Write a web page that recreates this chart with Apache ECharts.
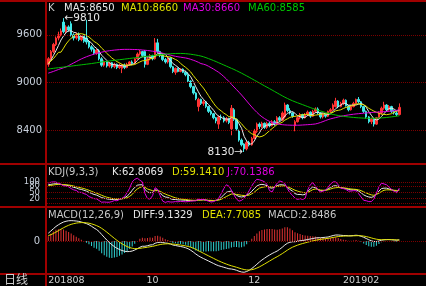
<!DOCTYPE html>
<html><head><meta charset="utf-8">
<script src="https://cdn.jsdelivr.net/npm/echarts@6/dist/echarts.min.js"></script>
<style>html,body{margin:0;padding:0;background:#000;}#c{width:426px;height:286px;}</style>
</head><body><div id="c"></div>
<script>
const slotCount = 149;
const tickLabels = [[0,'201808'],[41,'10'],[81,'12'],[123,'201902']];
const mainGridValues = [8400, 9000, 9600];
const kdjGridValues = [0, 20, 50, 80, 100];
const kdjLabelValues = [100, 80, 50, 20];
const macdGridValues = [0];
// [open, close, low, high]
const ohlc = [
[9230,9300,9200,9320],[9300,9390,9280,9410],[9390,9480,9370,9500],[9480,9560,9460,9580],[9560,9600,9530,9640],
[9600,9650,9580,9680],[9760,9640,9620,9810],[9640,9700,9610,9720],[9700,9660,9640,9720],[9740,9600,9580,9770],
[9600,9560,9530,9620],[9560,9610,9540,9630],[9610,9540,9520,9630],[9540,9590,9520,9600],[9590,9520,9500,9610],
[9560,9510,9480,9790],[9510,9450,9430,9530],[9450,9420,9390,9470],[9420,9370,9350,9440],[9370,9410,9350,9430],
[9400,9300,9280,9420],[9300,9220,9200,9320],[9220,9260,9200,9280],[9260,9210,9190,9270],[9210,9250,9190,9260],
[9250,9200,9180,9260],[9200,9230,9180,9250],[9230,9190,9170,9240],[9190,9220,9170,9240],[9180,9220,9120,9230],
[9220,9190,9170,9240],[9190,9230,9180,9250],[9230,9260,9210,9270],[9260,9240,9220,9280],[9240,9300,9230,9310],
[9300,9360,9290,9380],[9360,9390,9340,9410],[9390,9340,9320,9400],[9390,9230,9190,9410],[9230,9300,9220,9320],
[9300,9340,9280,9360],[9340,9300,9280,9350],[9300,9500,9290,9560],[9500,9390,9370,9550],[9390,9340,9320,9400],
[9340,9290,9270,9360],[9290,9260,9240,9310],[9260,9310,9240,9330],[9310,9200,9180,9320],[9200,9140,9120,9210],
[9130,9180,9100,9190],[9180,9140,9130,9190],[9140,9170,9130,9180],[9170,9130,9120,9180],[9130,9100,9080,9150],
[9100,9020,9000,9130],[9020,8950,8930,9030],[8950,8870,8850,8960],[8870,8800,8780,8880],[8700,8790,8640,8810],
[8790,8740,8720,8800],[8740,8760,8710,8780],[8760,8700,8680,8770],[8700,8640,8620,8710],[8640,8610,8590,8660],
[8610,8560,8540,8620],[8560,8520,8490,8570],[8480,8570,8420,8590],[8570,8560,8530,8600],[8560,8520,8500,8580],
[8520,8550,8500,8570],[8550,8500,8480,8560],[8420,8680,8340,8720],[8660,8540,8520,8680],[8540,8420,8400,8550],
[8400,8280,8260,8410],[8280,8220,8200,8300],[8230,8170,8130,8240],[8170,8250,8150,8270],[8250,8220,8200,8270],
[8220,8300,8210,8320],[8300,8400,8290,8420],[8390,8480,8370,8500],[8480,8450,8420,8500],[8450,8490,8430,8510],
[8490,8440,8420,8500],[8440,8490,8420,8510],[8490,8460,8440,8510],[8460,8510,8450,8530],[8510,8480,8460,8530],
[8480,8560,8470,8580],[8560,8530,8510,8580],[8530,8620,8520,8640],[8570,8720,8550,8750],[8720,8650,8630,8730],
[8650,8620,8600,8680],[8620,8580,8560,8630],[8460,8510,8390,8530],[8510,8560,8500,8580],[8560,8600,8540,8620],
[8600,8560,8540,8610],[8560,8600,8550,8620],[8600,8630,8580,8650],[8630,8580,8560,8640],[8580,8640,8570,8660],
[8640,8670,8620,8690],[8670,8620,8600,8690],[8620,8570,8550,8630],[8570,8600,8550,8620],[8600,8580,8560,8610],
[8580,8640,8570,8650],[8640,8660,8620,8680],[8660,8720,8650,8740],[8700,8770,8690,8810],[8770,8700,8680,8780],
[8700,8740,8690,8760],[8740,8780,8720,8800],[8780,8710,8700,8790],[8710,8660,8640,8720],[8660,8700,8650,8720],
[8700,8740,8690,8760],[8740,8790,8730,8800],[8790,8760,8740,8820],[8760,8700,8680,8770],[8700,8640,8620,8710],
[8640,8570,8550,8650],[8570,8510,8490,8580],[8510,8540,8480,8560],[8540,8480,8450,8550],[8480,8560,8470,8570],
[8560,8620,8550,8640],[8620,8680,8600,8700],[8680,8720,8660,8760],[8720,8660,8640,8730],[8660,8700,8650,8720],
[8700,8640,8620,8710],[8640,8620,8600,8660],[8620,8600,8580,8640],[8600,8690,8590,8740]
];
const ma5 = [
9230,9280,9340,9400,9466,9536,9586,9630,9650,9650,
9632,9626,9594,9580,9564,9554,9522,9498,9454,9432,
9390,9344,9312,9280,9248,9228,9230,9216,9218,9212,
9210,9210,9224,9228,9244,9278,9310,9326,9324,9324,
9320,9302,9334,9366,9374,9364,9356,9318,9280,9240,
9218,9194,9166,9152,9144,9112,9074,9014,8948,8886,
8830,8792,8758,8726,8690,8654,8606,8580,8564,8546,
8544,8540,8562,8558,8538,8484,8428,8326,8268,8228,
8232,8268,8330,8370,8424,8452,8470,8466,8478,8476,
8500,8508,8540,8582,8616,8628,8638,8616,8584,8574,
8562,8566,8590,8594,8602,8624,8628,8616,8620,8608,
8602,8610,8640,8674,8698,8718,8742,8740,8718,8718,
8718,8720,8730,8738,8726,8692,8636,8592,8548,8532,
8542,8576,8612,8648,8676,8680,8668,8644,8650];
const ma10 = [
9250,9270,9300,9340,9380,9383,9433,9485,9525,9558,
9584,9606,9612,9615,9607,9593,9574,9546,9517,9498,
9472,9433,9405,9367,9340,9309,9287,9264,9249,9230,
9219,9220,9220,9223,9228,9244,9260,9275,9276,9284,
9299,9306,9330,9345,9349,9342,9329,9326,9323,9307,
9291,9275,9242,9216,9192,9165,9134,9090,9050,9015,
8971,8933,8886,8837,8788,8742,8699,8669,8645,8618,
8599,8573,8571,8561,8542,8514,8484,8444,8413,8383,
8358,8348,8328,8319,8326,8342,8369,8398,8424,8450,
8476,8489,8503,8530,8546,8564,8573,8578,8583,8595,
8595,8602,8603,8589,8588,8593,8597,8603,8607,8605,
8613,8619,8628,8647,8653,8660,8676,8690,8696,8708,
8718,8731,8735,8728,8722,8705,8678,8661,8643,8629,
8617,8606,8602,8598,8604,8611,8630,8645,8660];
const ma30 = [
9120,9130,9141,9153,9165,9176,9187,9197,9214,9231,
9248,9265,9282,9298,9312,9325,9337,9348,9358,9367,
9375,9383,9390,9396,9401,9405,9409,9412,9415,9417,
9418,9418,9418,9417,9416,9415,9413,9410,9407,9404,
9400,9395,9390,9384,9377,9370,9362,9354,9346,9338,
9331,9325,9320,9315,9310,9303,9293,9282,9270,9256,
9240,9232,9222,9206,9188,9170,9150,9130,9105,9077,
9047,9015,8980,8946,8913,8880,8845,8808,8770,8732,
8695,8660,8628,8598,8572,8550,8530,8514,8501,8491,
8483,8477,8473,8470,8468,8467,8466,8466,8466,8467,
8469,8471,8473,8475,8478,8482,8490,8500,8512,8524,
8536,8546,8554,8562,8570,8577,8584,8590,8595,8600,
8604,8608,8611,8614,8617,8620,8623,8626,8628,8630,
8632,8634,8636,8638,8641,8644,8648,8653,8660];
const ma60 = [
9172,9176,9180,9184,9188,9192,9196,9200,9204,9208,
9212,9216,9220,9224,9228,9232,9236,9240,9245,9250,
9255,9260,9264,9268,9272,9276,9280,9284,9288,9292,
9296,9300,9304,9308,9312,9316,9320,9324,9328,9332,
9336,9340,9344,9348,9352,9355,9358,9361,9363,9365,
9366,9367,9367,9366,9364,9361,9357,9352,9347,9341,
9334,9325,9314,9302,9290,9277,9264,9250,9236,9222,
9208,9194,9180,9166,9151,9135,9119,9102,9085,9068,
9050,9032,9014,8996,8978,8960,8943,8925,8907,8889,
8871,8853,8835,8818,8802,8787,8773,8760,8748,8736,
8724,8712,8700,8688,8676,8665,8655,8645,8635,8626,
8617,8609,8601,8594,8588,8583,8578,8574,8570,8567,
8564,8561,8559,8557,8555,8554,8553,8553,8553,8554,
8556,8558,8560,8563,8567,8571,8575,8580,8585];
const kdjK = [
86,88,90,91,90,88,85,84,82,78, 74,71,66,64,60,56,50,45,40,37,
31,25,22,19,17,16,17,16,18,20, 24,32,44,60,74,84,86,86,64,52,
48,50,62,60,48,34,28,26,20,16, 16,14,14,13,12,11,11,11,11,14,
14,15,13,11,10,10,12,16,26,38, 50,54,56,44,36,30,28,30,36,44,
55,68,80,86,88,86,82,72,70,76, 82,86,86,84,74,64,56,44,40,40,
38,40,54,66,76,72,64,58,58,60, 66,74,80,82,78,72,70,68,64,62,
62,62,56,48,38,32,28,26,30,42, 56,68,70,70,66,62,58,56,62.8069];
const kdjD = [
82,83,85,87,88,88,87,86,85,83, 80,77,74,71,68,64,60,55,50,46,
41,36,31,27,24,21,20,19,19,19, 21,24,31,40,55,66,73,78,74,66,
62,58,58,58,55,48,42,37,33,28, 24,21,19,17,16,14,13,12,12,13,
13,14,13,12,12,11,12,13,17,23, 30,36,42,42,40,38,36,35,35,37,
43,51,61,70,74,76,78,77,76,76, 78,79,80,80,77,72,66,60,56,52,
50,48,50,56,63,66,64,61,60,60, 62,66,70,72,73,72,71,70,68,66,
65,64,62,58,52,47,42,38,36,40, 46,54,60,62,62,61,60,59,59.1410];
const kdjJ = [
94,98,100,99,94,88,81,80,76,68, 62,59,50,50,44,40,30,25,20,19,
11,3,4,3,3,6,11,10,16,22, 30,48,70,100,112,117,108,100,45,20,
18,34,72,64,34,8,2,6,4,4, 6,5,7,6,5,6,8,9,10,17,
15,17,12,8,4,6,12,22,44,68, 86,80,60,38,18,8,12,22,40,58,
80,100,112,110,106,100,88,58,52,76, 94,104,100,92,68,48,36,22,16,20,
16,22,62,86,96,80,62,52,56,60, 74,90,100,100,86,70,68,64,56,56,
58,58,44,28,12,10,6,6,18,46, 76,94,90,86,74,64,54,48,70.1386];
const macdDiff = [
62,80,98,116,130,142,152,158,162,163, 162,160,157,152,146,139,130,118,104,92,
75,52,30,8,-12,-30,-45,-58,-68,-76, -82,-85,-84,-80,-72,-62,-50,-42,-42,-38,
-32,-30,-18,-12,-10,-12,-16,-18,-24,-32, -36,-40,-44,-48,-54,-62,-74,-88,-104,-118,
-130,-140,-150,-160,-170,-180,-190,-198,-204,-210, -216,-222,-224,-228,-234,-242,-248,-250,-244,-234,
-220,-204,-186,-168,-152,-138,-124,-112,-100,-90, -80,-66,-50,-32,-18,-10,-6,-6,-2,2,
4,8,12,16,20,24,26,26,28,30, 32,38,44,48,48,46,44,44,42,42,
44,46,44,38,30,20,10,2,-4,-4, 0,6,10,12,12,10,8,6,9.1329];
const macdDea = [
43,50.4,59.9,71.1,82.9,94.7,106.2,116.6,125.7,133.2, 139,143.2,146,147.2,147,145.4,142.3,137.4,130.7,123,
113.4,101.1,86.9,71.1,54.5,37.6,21.1,5.3,-9.4,-22.7, -34.6,-44.7,-52.6,-58.1,-60.9,-61.1,-58.9,-55.5,-52.8,-49.8,
-46.2,-43,-38,-32.8,-28.2,-25,-23.2,-22.2,-22.6,-24.5, -26.8,-29.4,-32.3,-35.4,-39.1,-43.7,-49.8,-57.4,-66.7,-77,
-87.6,-98.1,-108.5,-118.8,-129,-139.2,-149.4,-159.1,-168.1,-176.5, -184.4,-191.9,-198.3,-204.2,-210.2,-216.6,-222.9,-228.3,-231.4,-231.9,
-229.5,-224.4,-216.7,-207,-196,-184.4,-172.3,-160.2,-148.2,-136.6, -125.3,-113.4,-100.7,-87,-73.2,-60.6,-49.7,-41,-33.2,-26.2,
-20.2,-14.6,-9.3,-4.2,0.6,5.3,9.4,12.7,15.8,18.6, 21.3,24.6,28.5,32.4,35.5,37.6,38.9,39.9,40.3,40.6,
41.3,42.2,42.6,41.7,39.4,35.5,30.4,24.7,19,14.4, 11.5,10.4,10.3,10.6,10.9,10.7,9.8,8.8,7.7085];
const macdBar = [
38,59,76,90,94,95,92,83,73,60, 46,34,22,10,-2,-13,-25,-39,-53,-62,
-77,-98,-114,-126,-133,-135,-132,-127,-117,-107, -95,-81,-63,-44,-22,-2,18,27,22,24,
28,26,40,42,36,26,14,8,-3,-15, -18,-21,-23,-25,-30,-37,-48,-61,-75,-82,
-85,-84,-83,-82,-82,-82,-81,-78,-72,-67, -63,-60,-51,-48,-48,-51,-50,-43,-25,-4,
19,41,61,78,88,93,97,96,96,93, 91,95,101,110,110,101,87,70,62,56,
48,45,43,40,39,37,33,27,24,23, 21,27,31,31,25,17,10,8,3,3,
5,8,3,-7,-19,-31,-41,-45,-46,-37, -23,-9,-1,3,2,-1,-4,-6,2.8486];

const categories = [];
for (let i = 0; i < slotCount; i++) categories.push('d' + i);
const labelMap = {};
tickLabels.forEach(t => { labelMap[t[0]] = t[1]; });

let hiIdx = 0, loIdx = 0;
ohlc.forEach((d, i) => { if (d[3] > ohlc[hiIdx][3]) hiIdx = i; if (d[2] < ohlc[loIdx][2]) loIdx = i; });

const FONT = 'DejaVu Sans';
const RED = '#a00000';
const DOT = '#7a0000';
const UP = '#ff3232', DOWN = '#40e8e8';
const KDJ_MIN = -15, KDJ_MAX = 185;

function gridLines(vals) {
  return { symbol: ['none','none'], silent: true, label: {show:false}, animation:false,
    lineStyle: {color: DOT, type: 'dotted', width: 1},
    emphasis: {disabled: true},
    data: vals.map(v => ({yAxis: v})) };
}
function xAx(gi, showLabel) {
  return { type: 'category', gridIndex: gi, data: categories, boundaryGap: true,
    axisLine: {show:false}, axisTick: {show:false}, splitLine: {show:false},
    axisLabel: showLabel ? {
      show: true, color: '#d0d0d0', fontSize: 9.5, fontFamily: FONT, margin: 3,
      interval: (idx) => labelMap[idx] !== undefined,
      formatter: (v, idx) => labelMap[idx] || '',
      alignMinLabel: 'left'
    } : {show:false} };
}
function yAx(gi, min, max, size, margin, vals) {
  return {type:'value', gridIndex: gi, min, max, position: 'left', offset: 0,
    axisLine:{show:false}, axisTick:{show:false}, splitLine:{show:false},
    axisLabel: {color:'#c8d0dc', fontSize:size, fontFamily:FONT, margin, customValues: vals,
      hideOverlap:false, showMinLabel:true, showMaxLabel:true, formatter: (v) => String(v)}};
}
function line(name, data, color, xi, yi) {
  return { name, type: 'line', data, xAxisIndex: xi, yAxisIndex: yi, showSymbol: false, symbol: 'none',
    lineStyle: {color, width: 1}, itemStyle: {color}, animation: false, silent: true };
}
function txt(x, y, text, color) {
  return { type: 'text', x, y, silent: true,
    style: { text, fill: color, fontSize: 10, fontFamily: FONT, verticalAlign: 'middle', align: 'left' } };
}
function hline(y, w) {
  return { type: 'line', silent: true, shape: {x1: 0, y1: y, x2: 426, y2: y}, style: {stroke: RED, lineWidth: w || 2} };
}

// one label axis per KDJ label so overlapping labels are all kept
const yAxes = [
  yAx(0, 7992, 10025, 10, 5, mainGridValues),
  yAx(1, KDJ_MIN, KDJ_MAX, 8.5, 7, [kdjLabelValues[0]]),
  yAx(2, -256, 272, 10, 7, macdGridValues)
];
kdjLabelValues.slice(1).forEach(v => yAxes.push(yAx(1, KDJ_MIN, KDJ_MAX, 8.5, 7, [v])));

const chart = echarts.init(document.getElementById('c'), null, {renderer: 'canvas'});
chart.setOption({
  backgroundColor: '#000',
  animation: false,
  grid: [
    {left: 47, right: 0, top: 1, height: 162},
    {left: 47, right: 0, top: 164, height: 42},
    {left: 47, right: 0, top: 207, height: 66}
  ],
  xAxis: [xAx(0,false), xAx(1,false), xAx(2,true)],
  yAxis: yAxes,
  series: [
    { type:'candlestick', name:'K', data: ohlc, xAxisIndex:0, yAxisIndex:0, barWidth: 2, silent:true,
      itemStyle:{color:UP, color0:DOWN, borderColor:UP, borderColor0:DOWN, borderWidth:1},
      markLine: gridLines(mainGridValues),
      markPoint: { symbol:'circle', symbolSize: 0, silent:true, animation:false,
        label: {show:true, color:'#e8e8e8', fontSize:10.5, fontFamily:FONT},
        data: [
          {coord:[hiIdx, ohlc[hiIdx][3]], value: ohlc[hiIdx][3], label:{position:'right', distance:1, formatter:'\u2190{c}'}},
          {coord:[loIdx, ohlc[loIdx][2]], value: ohlc[loIdx][2], label:{position:'left', distance:1, formatter:'{c}\u2192'}}
        ] } },
    line('MA5', ma5, '#e8e8e8', 0, 0),
    line('MA10', ma10, '#e0e000', 0, 0),
    line('MA30', ma30, '#e000e0', 0, 0),
    line('MA60', ma60, '#00c000', 0, 0),
    Object.assign(line('K', kdjK, '#e8e8e8', 1, 1), {markLine: gridLines(kdjGridValues)}),
    line('D', kdjD, '#e0e000', 1, 1),
    line('J', kdjJ, '#e000e0', 1, 1),
    { type:'bar', name:'MACD', data: macdBar, xAxisIndex:2, yAxisIndex:2, barWidth: 1, silent:true,
      itemStyle:{ color: (p) => p.value >= 0 ? '#e03232' : '#30d0d0' },
      markLine: gridLines(macdGridValues) },
    line('DIFF', macdDiff, '#e8e8e8', 2, 2),
    line('DEA', macdDea, '#e0e000', 2, 2)
  ],
  graphic: [
    {type:'rect', silent:true, shape:{x:0, y:0, width:426, height:2}, style:{fill:RED}},
    hline(164), hline(207), hline(274),
    {type:'line', silent:true, shape:{x1:46, y1:0, x2:46, y2:286}, style:{stroke:RED, lineWidth:2}},
    txt(48, 8, 'K', '#c8c8c8'),
    txt(64, 8, 'MA5:8650', '#e8e8e8'),
    txt(121, 8, 'MA10:8660', '#e0e000'),
    txt(183, 8, 'MA30:8660', '#e000e0'),
    txt(248, 8, 'MA60:8585', '#00c800'),
    txt(48, 172, 'KDJ(9,3,3)', '#c8c8c8'),
    txt(112, 172, 'K:62.8069', '#e8e8e8'),
    txt(172, 172, 'D:59.1410', '#e0e000'),
    txt(227, 172, 'J:70.1386', '#e000e0'),
    txt(48, 215, 'MACD(12,26,9)', '#c8c8c8'),
    txt(133, 215, 'DIFF:9.1329', '#e8e8e8'),
    txt(202, 215, 'DEA:7.7085', '#e0e000'),
    txt(268, 215, 'MACD:2.8486', '#c8c8c8'),
    {type:'text', x:4, y:279, silent:true, style:{text:'日线', fill:'#d0d0d0', fontSize:12, fontFamily:'Noto Sans CJK SC', verticalAlign:'middle'}}
  ]
});
</script></body></html>
